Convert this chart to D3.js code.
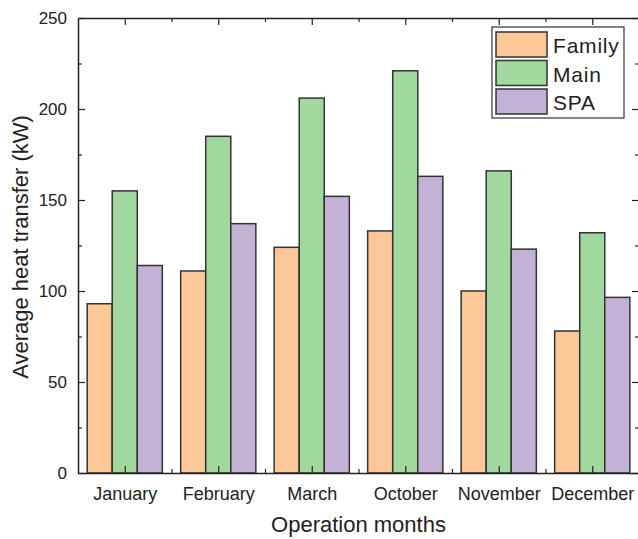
<!DOCTYPE html>
<html>
<head>
<meta charset="utf-8">
<script src="https://cdn.jsdelivr.net/npm/d3@7"></script>
<style>
  body { margin: 0; background: #fff; }
  text { font-family: "Liberation Sans", Arial, sans-serif; fill: #222; }
</style>
</head>
<body>
<div id="chart"></div>
<script>
var months = ["January", "February", "March", "October", "November", "December"];
var seriesNames = ["Family", "Main", "SPA"];
var family = [93, 111, 124, 133, 100, 78];
var mainPool = [155, 185, 206, 221, 166, 132];
var spa = [114, 137, 152, 163, 123, 96.5];
var yTicks = [0, 50, 100, 150, 200, 250];
var colors = ["#fcc897", "#a0d89e", "#c3b2d6"];

var svgWidth = 638;
var svgHeight = 539;
var margin = { top: 18, right: 0, bottom: 66, left: 78 };
var width = 639 - margin.left;
var height = svgHeight - margin.top - margin.bottom;

var svg = d3.select("#chart")
  .append("svg")
  .attr("width", svgWidth)
  .attr("height", svgHeight);

var chartGroup = svg.append("g")
  .attr("transform", `translate(${margin.left}, ${margin.top})`);

// categories sit at 1..6 on a linear axis
var xScale = d3.scaleLinear().domain([0.5, 6.5]).range([0, width]);
var yScale = d3.scaleLinear().domain([0, 250]).range([height, 0]);
var barW = 0.268;

var allSeries = [family, mainPool, spa];

allSeries.forEach(function(vals, s) {
  chartGroup.append("g")
    .selectAll("rect")
    .data(vals)
    .enter()
    .append("rect")
    .attr("x", (d, i) => xScale(i + 1 + (s - 1.5) * barW))
    .attr("y", d => yScale(d))
    .attr("width", xScale(barW) - xScale(0))
    .attr("height", d => height - yScale(d))
    .attr("fill", colors[s])
    .attr("stroke", "#333")
    .attr("stroke-width", 1.5);
});

// axes: ticks point inward on all four sides
var catTicks = d3.range(1, 7);
var catMinor = d3.range(1.5, 6.5, 1);
var yMinor = [25, 75, 125, 175, 225];

function styleAxis(g) {
  g.select(".domain").attr("stroke", "#222").attr("stroke-width", 1.5);
  g.selectAll(".tick line").attr("stroke", "#222").attr("stroke-width", 1.2);
}

var bottomAxis = d3.axisBottom(xScale)
  .tickValues(catTicks)
  .tickSize(-7)
  .tickSizeOuter(0)
  .tickPadding(14)
  .tickFormat((d, i) => months[i]);
var xAxis = chartGroup.append("g")
  .attr("transform", `translate(0, ${height})`)
  .call(bottomAxis);
xAxis.selectAll("text").attr("font-size", "18px").attr("fill", "#222");
styleAxis(xAxis);

chartGroup.append("g")
  .attr("transform", `translate(0, ${height})`)
  .call(d3.axisBottom(xScale).tickValues(catMinor).tickSize(-4).tickSizeOuter(0).tickFormat(""))
  .call(g => g.select(".domain").remove())
  .selectAll(".tick line").attr("stroke", "#222").attr("stroke-width", 1.2);

var topAxis = chartGroup.append("g")
  .call(d3.axisTop(xScale).tickValues(catTicks).tickSize(-7).tickSizeOuter(0).tickFormat(""));
styleAxis(topAxis);
chartGroup.append("g")
  .call(d3.axisTop(xScale).tickValues(catMinor).tickSize(-4).tickSizeOuter(0).tickFormat(""))
  .call(g => g.select(".domain").remove())
  .selectAll(".tick line").attr("stroke", "#222").attr("stroke-width", 1.2);

var leftAxis = d3.axisLeft(yScale)
  .tickValues(yTicks)
  .tickSize(-7)
  .tickSizeOuter(0)
  .tickPadding(11);
var yAxis = chartGroup.append("g").call(leftAxis);
yAxis.selectAll("text").attr("font-size", "17px").attr("fill", "#222");
styleAxis(yAxis);
chartGroup.append("g")
  .call(d3.axisLeft(yScale).tickValues(yMinor).tickSize(-4).tickSizeOuter(0).tickFormat(""))
  .call(g => g.select(".domain").remove())
  .selectAll(".tick line").attr("stroke", "#222").attr("stroke-width", 1.2);

var rightAxis = chartGroup.append("g")
  .attr("transform", `translate(${width}, 0)`)
  .call(d3.axisRight(yScale).tickValues(yTicks).tickSize(-7).tickSizeOuter(0).tickFormat(""));
styleAxis(rightAxis);
chartGroup.append("g")
  .attr("transform", `translate(${width}, 0)`)
  .call(d3.axisRight(yScale).tickValues(yMinor).tickSize(-4).tickSizeOuter(0).tickFormat(""))
  .call(g => g.select(".domain").remove())
  .selectAll(".tick line").attr("stroke", "#222").attr("stroke-width", 1.2);

// axis titles
svg.append("text")
  .attr("x", margin.left + xScale(3.5))
  .attr("y", 532)
  .attr("text-anchor", "middle")
  .attr("font-size", "22px")
  .text("Operation months");

svg.append("text")
  .attr("transform", "translate(28, 247) rotate(-90)")
  .attr("text-anchor", "middle")
  .attr("font-size", "22px")
  .text("Average heat transfer (kW)");

// legend
var legend = svg.append("g").attr("transform", "translate(492, 27)");
legend.append("rect")
  .attr("width", 132)
  .attr("height", 91)
  .attr("fill", "#fff")
  .attr("stroke", "#333")
  .attr("stroke-width", 1.2);

var legendItems = legend.selectAll(".item")
  .data(seriesNames)
  .enter()
  .append("g")
  .attr("transform", (d, i) => `translate(4, ${5 + i * 28.5})`);
legendItems.append("rect")
  .attr("width", 51)
  .attr("height", 25)
  .attr("fill", (d, i) => colors[i])
  .attr("stroke", "#333")
  .attr("stroke-width", 1.5);
legendItems.append("text")
  .attr("x", 57)
  .attr("y", 21)
  .attr("font-size", "21px")
  .attr("letter-spacing", "0.8px")
  .text(d => d);
</script>
</body>
</html>
